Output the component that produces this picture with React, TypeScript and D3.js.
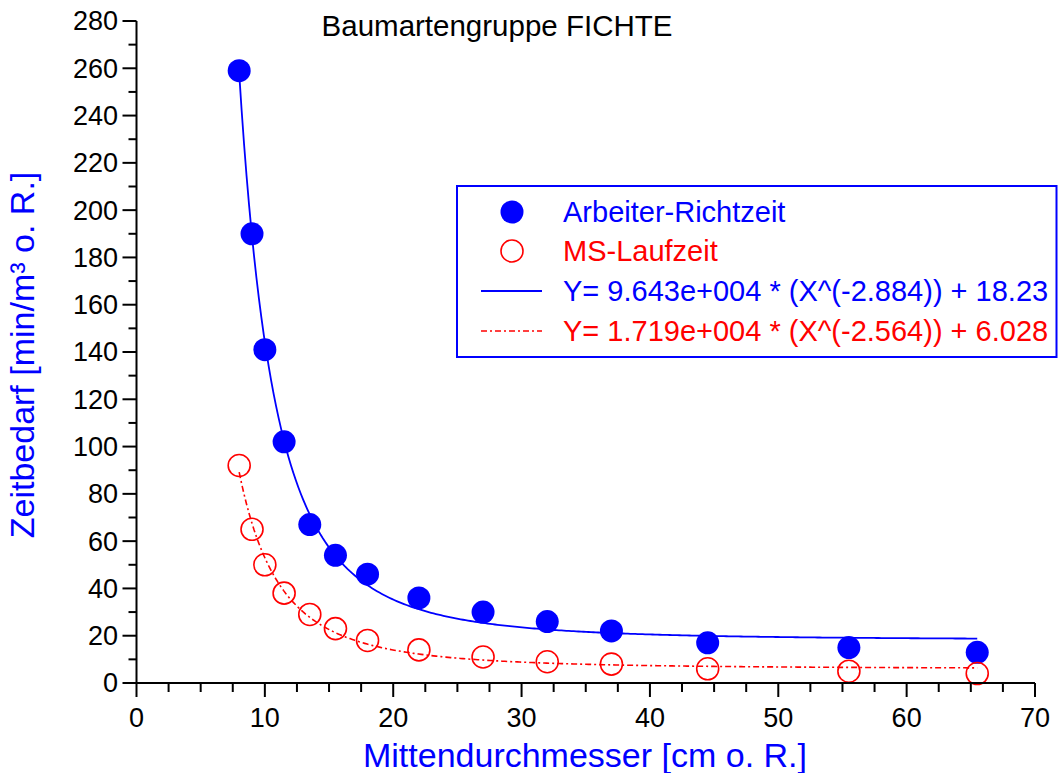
import React from "react";
import * as d3 from "d3";

// Mid-diameter classes [cm o. R.]
const diameters = [8, 9, 10, 11.5, 13.5, 15.5, 18, 22, 27, 32, 37, 44.5, 55.5, 65.5];
// Worker standard time [min/m³ o. R.]
const arbeiterRichtzeit = [259, 190, 141, 102, 67, 54, 46, 36, 30, 26, 22, 17, 15, 13];
// Chainsaw running time [min/m³ o. R.]
const msLaufzeit = [92, 65, 50, 38, 29, 23, 18, 14, 11, 9, 8, 6, 5, 4];

// Power-law fits Y = a * X^b + c
const fitArbeiter = { a: 9.643e4, b: -2.884, c: 18.23 };
const fitMS = { a: 1.719e4, b: -2.564, c: 6.028 };

const xTicks = [0, 10, 20, 30, 40, 50, 60, 70];
const yTicks = [0, 20, 40, 60, 80, 100, 120, 140, 160, 180, 200, 220, 240, 260, 280];

const legendLabels = [
  "Arbeiter-Richtzeit",
  "MS-Laufzeit",
  "Y= 9.643e+004 * (X^(-2.884)) + 18.23",
  "Y= 1.719e+004 * (X^(-2.564)) + 6.028",
];

const W = 1058;
const H = 773;
const BLUE = "#0000ff";
const RED = "#ff0000";
const FONT = "'Liberation Sans', Arial, Helvetica, sans-serif";

export default function App() {
  const x = d3.scaleLinear().domain([0, 70]).range([136.5, 1035]);
  const y = d3.scaleLinear().domain([0, 280]).range([683, 21]);

  const xMin = diameters[0];
  const xMax = diameters[diameters.length - 1];
  const samples = d3.range(0, 301).map((i) => xMin + ((xMax - xMin) * i) / 300);
  const line = d3
    .line<number[]>()
    .x((d) => x(d[0]))
    .y((d) => y(d[1]));
  const fitPath = (f: { a: number; b: number; c: number }) =>
    line(samples.map((v) => [v, f.a * Math.pow(v, f.b) + f.c])) || "";

  const xMinor = d3.range(0, 70.001, 2.5).filter((v) => v % 10 !== 0);
  const yMinor = d3.range(10, 280, 20);

  const x0 = x(0);
  const y0 = y(0);

  const legX = 457;
  const legY = 186;
  const rowY = [212, 251, 291, 331];

  return (
    <svg
      width={W}
      height={H}
      style={{ position: "absolute", left: 0, top: 0, background: "#fff" }}
      fontFamily={FONT}
    >
      <rect x={0} y={0} width={W} height={H} fill="#fff" />

      {/* title */}
      <text x={497} y={36} fontSize={29.5} textAnchor="middle" fill="#000">
        Baumartengruppe FICHTE
      </text>

      {/* fitted curves */}
      <path d={fitPath(fitArbeiter)} fill="none" stroke={BLUE} strokeWidth={1.8} />
      <path
        d={fitPath(fitMS)}
        fill="none"
        stroke={RED}
        strokeWidth={1.6}
        strokeDasharray="6 3 2 3"
      />

      {/* measured points */}
      {diameters.map((d, i) => (
        <circle key={"a" + i} cx={x(d)} cy={y(arbeiterRichtzeit[i])} r={11.5} fill={BLUE} />
      ))}
      {diameters.map((d, i) => (
        <circle
          key={"m" + i}
          cx={x(d)}
          cy={y(msLaufzeit[i])}
          r={11}
          fill="none"
          stroke={RED}
          strokeWidth={1.6}
        />
      ))}

      {/* axes */}
      <g stroke="#000" strokeWidth={2}>
        <line x1={x0} y1={y(280)} x2={x0} y2={y0 + 1} />
        <line x1={x0 - 1} y1={y0} x2={x(70)} y2={y0} />
        {xTicks.map((t) => (
          <line key={"xt" + t} x1={x(t)} y1={y0} x2={x(t)} y2={y0 + 14} />
        ))}
        {xMinor.map((t) => (
          <line key={"xm" + t} x1={x(t)} y1={y0} x2={x(t)} y2={y0 + 9} />
        ))}
        {yTicks.map((t) => (
          <line key={"yt" + t} x1={x0} y1={y(t)} x2={x0 - 14} y2={y(t)} />
        ))}
        {yMinor.map((t) => (
          <line key={"ym" + t} x1={x0} y1={y(t)} x2={x0 - 8} y2={y(t)} />
        ))}
      </g>

      {xTicks.map((t) => (
        <text key={"xl" + t} x={x(t)} y={727} fontSize={27} textAnchor="middle" fill="#000">
          {t}
        </text>
      ))}
      {yTicks.map((t) => (
        <text
          key={"yl" + t}
          x={118}
          y={y(t)}
          dy="0.35em"
          fontSize={27}
          textAnchor="end"
          fill="#000"
        >
          {t}
        </text>
      ))}

      {/* axis titles */}
      <text x={585} y={767} fontSize={34} textAnchor="middle" fill={BLUE}>
        Mittendurchmesser [cm o. R.]
      </text>
      <text
        transform={`translate(34,355) rotate(-90)`}
        fontSize={34}
        textAnchor="middle"
        fill={BLUE}
      >
        Zeitbedarf [min/m³ o. R.]
      </text>

      {/* legend */}
      <rect
        x={legX}
        y={legY}
        width={W - 1.5 - legX}
        height={171}
        fill="#fff"
        stroke={BLUE}
        strokeWidth={2}
      />
      <circle cx={512} cy={rowY[0]} r={11.5} fill={BLUE} />
      <circle cx={512} cy={rowY[1]} r={11} fill="none" stroke={RED} strokeWidth={1.6} />
      <line x1={481} y1={rowY[2]} x2={542} y2={rowY[2]} stroke={BLUE} strokeWidth={1.8} />
      <line
        x1={481}
        y1={rowY[3]}
        x2={542}
        y2={rowY[3]}
        stroke={RED}
        strokeWidth={1.6}
        strokeDasharray="6 3 2 3"
      />
      {legendLabels.map((s, i) => (
        <text
          key={"lg" + i}
          x={563}
          y={rowY[i]}
          dy="0.35em"
          fontSize={29}
          fill={i % 2 === 0 ? BLUE : RED}
        >
          {s}
        </text>
      ))}
    </svg>
  );
}
